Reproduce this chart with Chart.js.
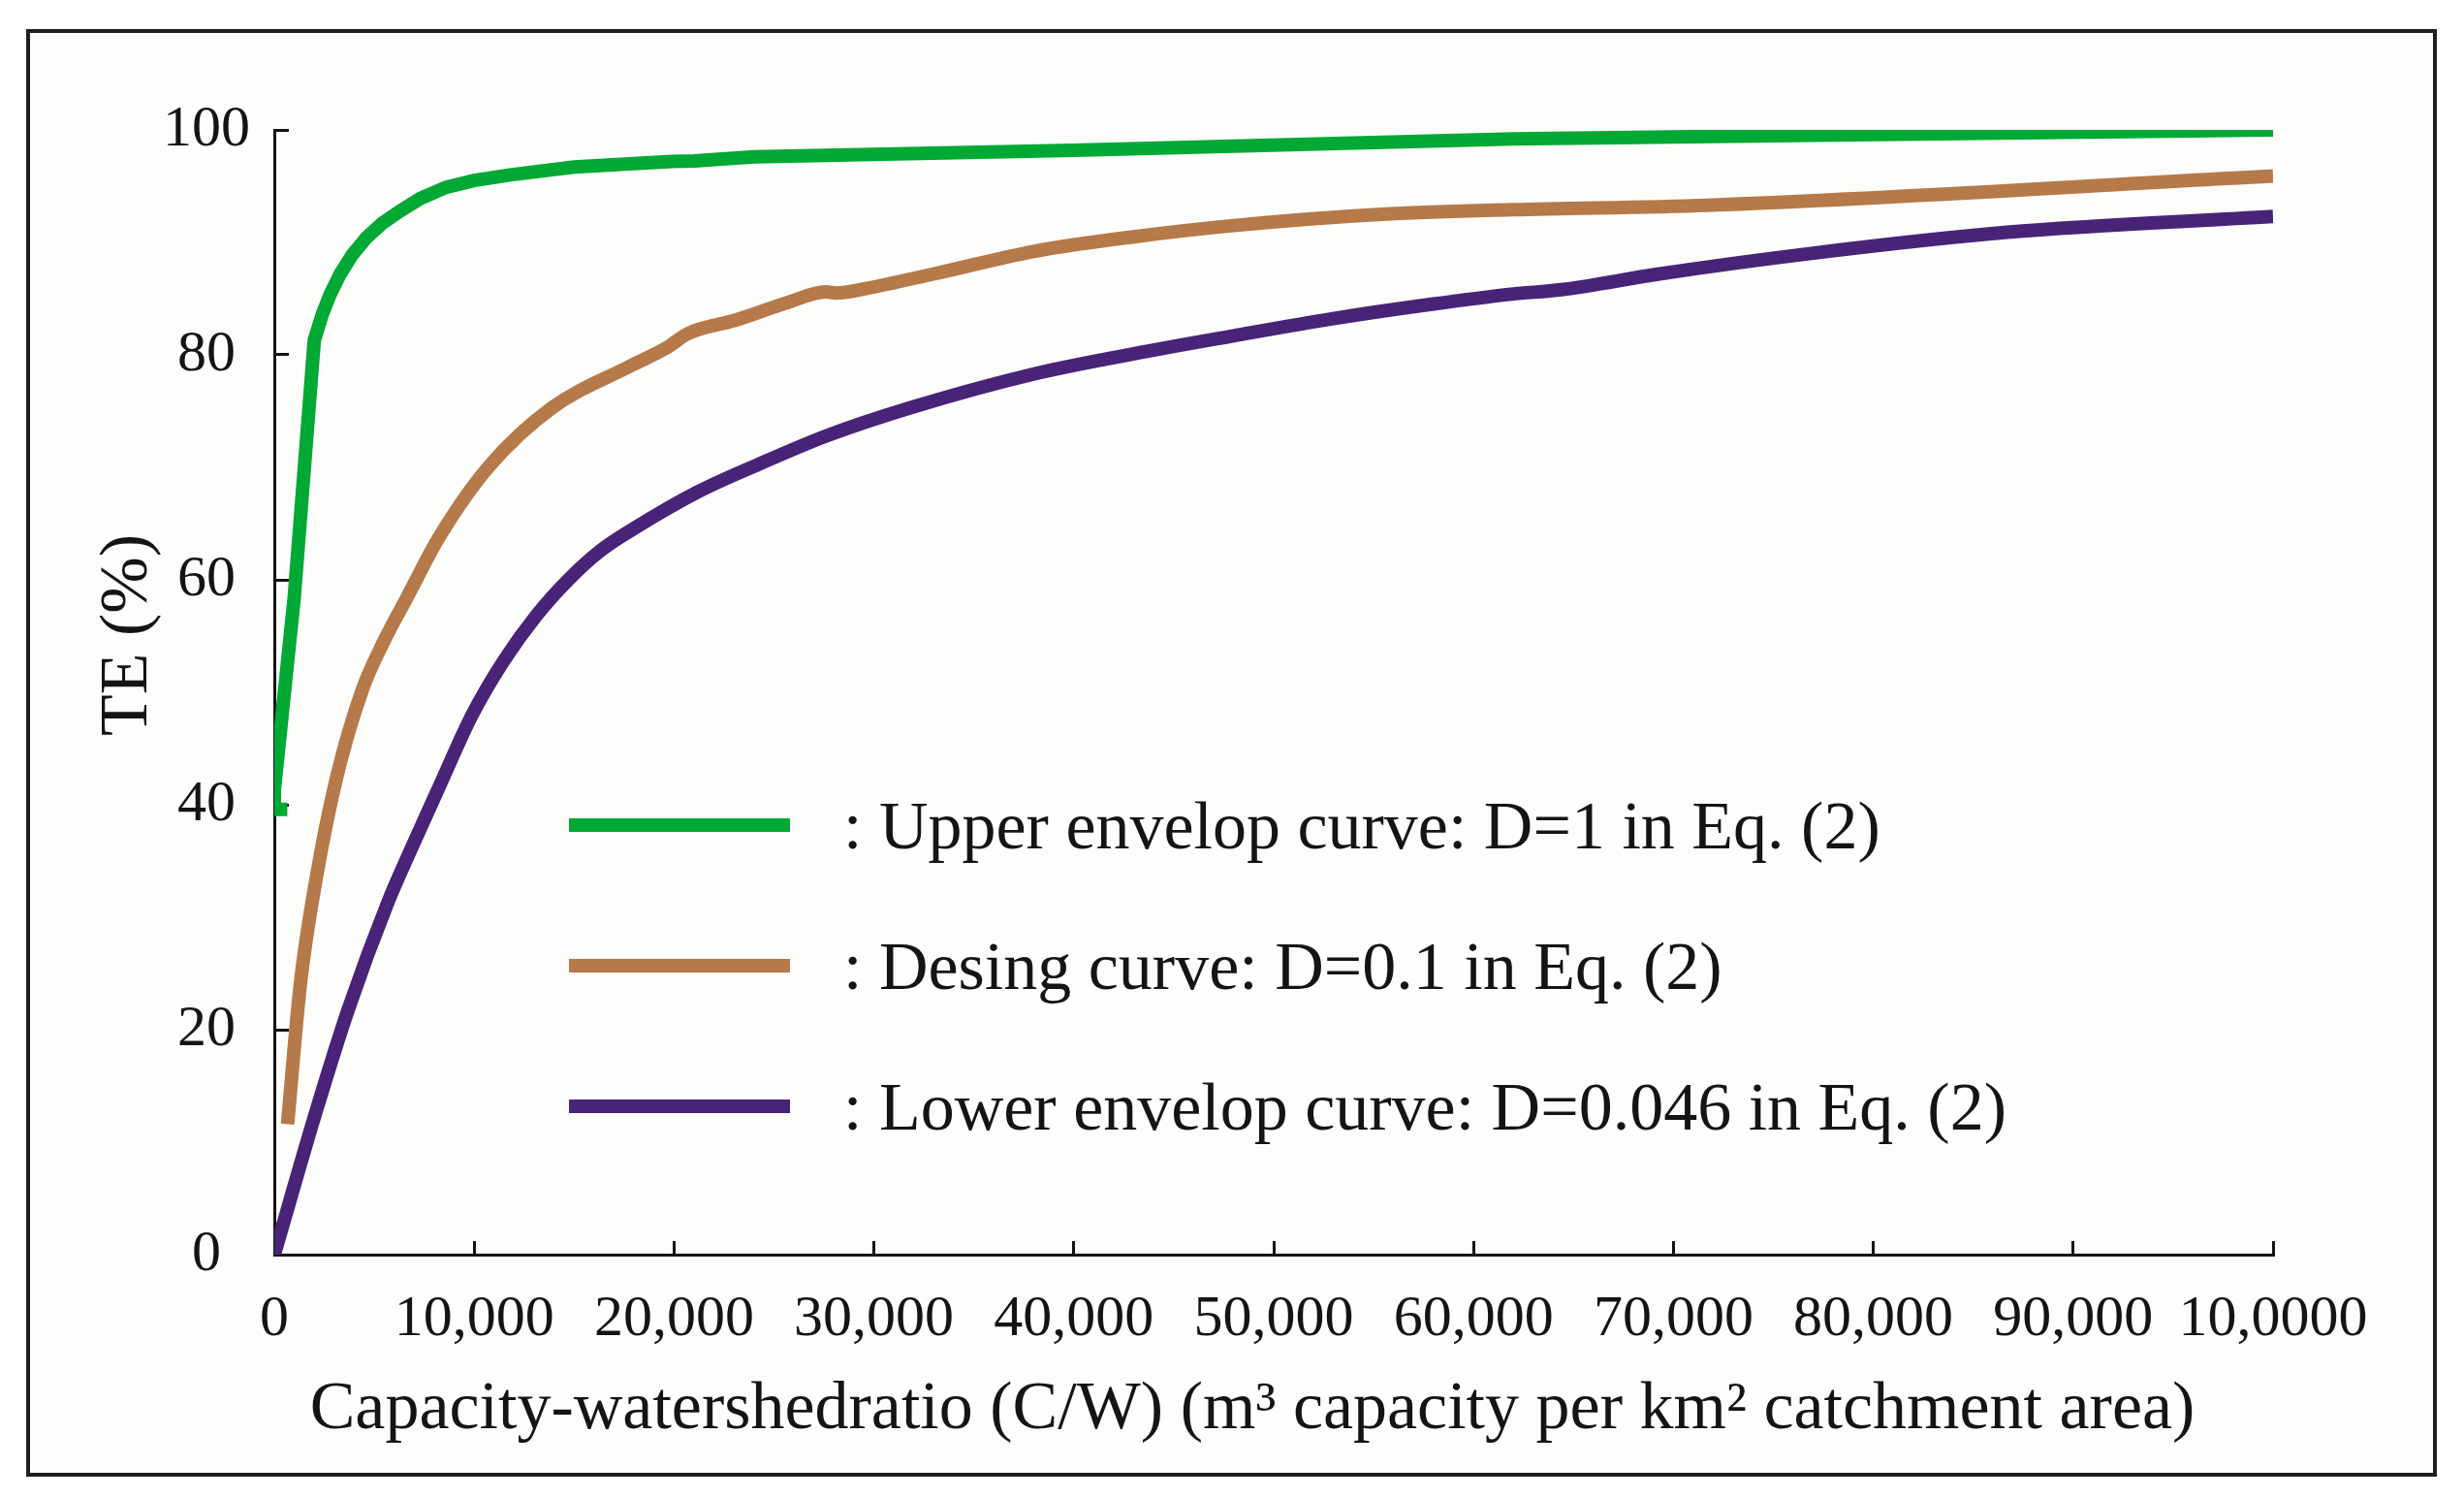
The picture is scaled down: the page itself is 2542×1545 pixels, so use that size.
<!DOCTYPE html>
<html>
<head>
<meta charset="utf-8">
<title>TE vs C/W</title>
<script src="https://cdn.jsdelivr.net/npm/chart.js@4.4.1/dist/chart.umd.min.js"></script>
<style>
  html, body { margin: 0; padding: 0; background: #ffffff; }
  #chart { display: block; }
</style>
</head>
<body>
<canvas id="chart" width="2542" height="1545"></canvas>
<script>
const FONT = "'Liberation Serif', 'Times New Roman', serif";
const INK = '#141414';

// values (C/W in m3/km2, TE in %)
const upperX = [650, 0, 0, 1000, 2000, 2400, 2800, 3300, 3900, 4600, 5400, 6300, 7300, 8600, 10000, 11800, 15000, 19900, 21000, 24000, 40000, 62000, 80000, 100000];
const upperY = [39.6, 39.6, 41.3, 58.5, 81.3, 83.6, 85.4, 87.2, 88.9, 90.4, 91.7, 92.8, 93.9, 94.9, 95.5, 96.0, 96.7, 97.2, 97.25, 97.6, 98.2, 99.2, 99.6, 100];

const designX = [663, 1300, 2100, 3100, 4400, 5500, 6600, 8250, 10700, 13900, 17800, 19600, 20700, 23100, 25600, 27600, 28100, 29600, 33000, 38000, 43000, 48000, 55400, 61900, 71700, 100000];
const designY = [11.6, 24.0, 33.5, 42.3, 50.2, 54.6, 58.3, 63.8, 70.0, 75.3, 79.0, 80.6, 81.9, 83.1, 84.6, 85.6, 85.5, 85.9, 87.2, 89.2, 90.5, 91.5, 92.5, 92.9, 93.3, 95.9];

const lowerX = [0, 2100, 3700, 5700, 6800, 8250, 9870, 11480, 13100, 14710, 16330, 17940, 21170, 24400, 27630, 31830, 38000, 43000, 48000, 52900, 57900, 61900, 64400, 69300, 76800, 86700, 100000];
const lowerY = [0, 12.8, 21.8, 31.4, 35.9, 41.6, 47.9, 52.8, 56.8, 60.0, 62.6, 64.5, 67.8, 70.4, 72.8, 75.3, 78.3, 80.1, 81.7, 83.2, 84.5, 85.4, 85.8, 87.2, 89.0, 90.9, 92.3];

const seriesLabels = [
    'Upper envelop curve: D=1 in Eq. (2)',
    'Desing curve: D=0.1 in Eq. (2)',
    'Lower envelop curve: D=0.046 in Eq. (2)'
];
const seriesColors = ['#00a834', '#b5794a', '#482378'];

const xTickLabels = ['0', '10,000', '20,000', '30,000', '40,000', '50,000', '60,000', '70,000', '80,000', '90,000', '10,0000'];
const yTickLabels = ['0', '20', '40', '60', '80', '100'];

const xTitle = 'Capacity-watershedratio (C/W) (m\u00b3 capacity per km\u00b2 catchment area)';
const yTitle = 'TE (%)';

function toPoints(xs, ys) {
    return xs.map((x, i) => ({ x: x, y: ys[i] }));
}

// white page with the boxed, off-white panel
const framePlugin = {
    id: 'frame',
    beforeDraw(chart) {
        const ctx = chart.ctx;
        ctx.save();
        ctx.fillStyle = '#ffffff';
        ctx.fillRect(0, 0, chart.width, chart.height);
        ctx.fillStyle = '#fdfdfb';
        ctx.fillRect(29, 32, 2483, 1489);
        ctx.lineWidth = 4;
        ctx.strokeStyle = '#1e1e1e';
        ctx.strokeRect(29, 32, 2483, 1489);
        ctx.restore();
    }
};

// axis titles and the in-plot legend
const textPlugin = {
    id: 'texts',
    afterDraw(chart) {
        const ctx = chart.ctx;
        ctx.save();
        ctx.fillStyle = INK;
        ctx.font = '70px ' + FONT;
        ctx.textBaseline = 'alphabetic';

        ctx.textAlign = 'center';
        ctx.fillText(xTitle, 1292, 1473);

        ctx.save();
        ctx.translate(151, 655);
        ctx.rotate(-Math.PI / 2);
        ctx.fillText(yTitle, 0, 0);
        ctx.restore();

        ctx.textAlign = 'left';
        chart.data.datasets.forEach((ds, i) => {
            const y = 851 + i * 145;
            ctx.beginPath();
            ctx.strokeStyle = ds.borderColor;
            ctx.lineWidth = 14;
            ctx.lineCap = 'butt';
            ctx.moveTo(587, y);
            ctx.lineTo(815, y);
            ctx.stroke();
            ctx.fillText(': ' + ds.label, 870, y + 24);
        });
        ctx.restore();
    }
};

function lineDataset(i, xs, ys, smooth) {
    const ds = {
        label: seriesLabels[i],
        data: toPoints(xs, ys),
        borderColor: seriesColors[i],
        borderWidth: 14,
        pointRadius: 0,
        tension: 0,
        fill: false
    };
    if (smooth) {
        ds.tension = 0.4;
        ds.cubicInterpolationMode = 'monotone';
    }
    return ds;
}

new Chart(document.getElementById('chart'), {
    type: 'line',
    data: {
        datasets: [
            lineDataset(0, upperX, upperY, false),
            lineDataset(1, designX, designY, true),
            lineDataset(2, lowerX, lowerY, true)
        ]
    },
    options: {
        responsive: false,
        animation: false,
        devicePixelRatio: 1,
        layout: { padding: { top: 134, right: 197, left: 0, bottom: 0 } },
        plugins: {
            legend: { display: false },
            tooltip: { enabled: false }
        },
        scales: {
            x: {
                type: 'linear',
                min: 0,
                max: 100000,
                afterFit: (scale) => { scale.height = 251; },
                border: { display: true, color: INK, width: 3 },
                grid: { drawOnChartArea: false, drawTicks: true, tickLength: -14, color: INK, lineWidth: 3 },
                ticks: {
                    stepSize: 10000,
                    autoSkip: false,
                    maxRotation: 0,
                    padding: 45,
                    color: INK,
                    font: { family: FONT, size: 60 },
                    callback: (value, index) => xTickLabels[index]
                }
            },
            y: {
                type: 'linear',
                min: 0,
                max: 100,
                afterFit: (scale) => { scale.width = 283; },
                border: { display: true, color: INK, width: 3 },
                grid: { drawOnChartArea: false, drawTicks: true, tickLength: -15, color: INK, lineWidth: 3 },
                ticks: {
                    stepSize: 20,
                    crossAlign: 'center',
                    padding: 40,
                    color: INK,
                    font: { family: FONT, size: 60 },
                    callback: (value, index) => yTickLabels[index]
                }
            }
        }
    },
    plugins: [framePlugin, textPlugin]
});
</script>
</body>
</html>
